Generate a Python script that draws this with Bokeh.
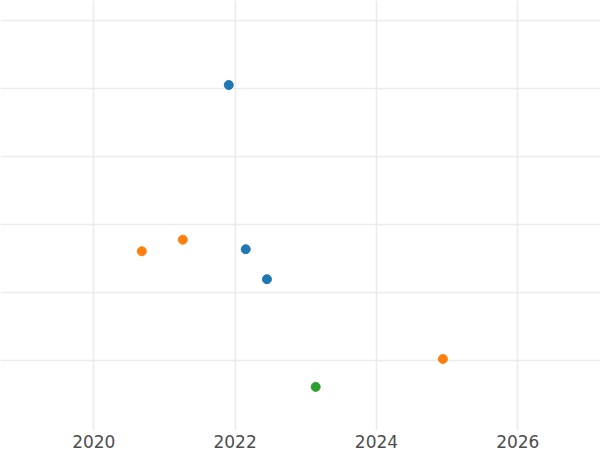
from bokeh.plotting import figure
from bokeh.models import Range1d, FixedTicker, ColumnDataSource
from bokeh.embed import file_html
from bokeh.resources import INLINE

# Data (x = year, y = arbitrary units)
blue_x = [2021.91, 2022.15, 2022.45]
blue_y = [4.05, 1.64, 1.20]
orange_x = [2020.68, 2021.26, 2024.94]
orange_y = [1.61, 1.78, 0.03]
green_x = [2023.14]
green_y = [-0.38]

x_ticks = [2020, 2022, 2024, 2026]
y_ticks = [0, 1, 2, 3, 4, 5]

p = figure(width=600, height=450, output_backend="svg", toolbar_location=None,
           x_range=Range1d(2018.68, 2027.17), y_range=Range1d(-1.02, 5.29),
           min_border_left=0, min_border_right=0, min_border_top=0, min_border_bottom=0)

p.outline_line_color = None
p.background_fill_color = "white"

p.xaxis.ticker = FixedTicker(ticks=x_ticks)
p.xaxis.minor_tick_line_color = None
p.xaxis.major_tick_line_color = None
p.xaxis.axis_line_color = None
p.xaxis.major_label_text_font = "DejaVu Sans"
p.xaxis.major_label_text_font_size = "17px"
p.xaxis.major_label_text_color = "#4d4d4d"
p.xaxis.major_label_standoff = -2

p.yaxis.visible = False

p.xgrid.ticker = FixedTicker(ticks=x_ticks)
p.ygrid.ticker = FixedTicker(ticks=y_ticks)
p.xgrid.grid_line_color = "#ebebeb"
p.ygrid.grid_line_color = "#ebebeb"
p.xgrid.grid_line_width = 1.6
p.ygrid.grid_line_width = 1.6

for xs, ys, c in [(blue_x, blue_y, "#1f77b4"), (orange_x, orange_y, "#ff7f0e"), (green_x, green_y, "#2ca02c")]:
    src = ColumnDataSource(dict(x=xs, y=ys))
    p.scatter("x", "y", source=src, size=9, fill_color=c, line_color=c)

open("out.html", "w").write(file_html(p, INLINE))
